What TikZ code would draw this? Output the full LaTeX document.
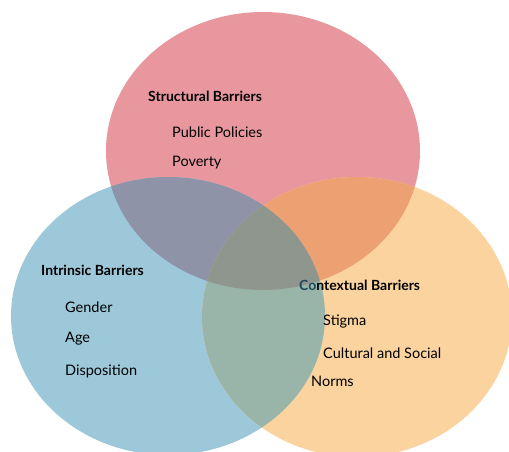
\documentclass[tikz,border=0pt]{standalone}
\usepackage{fontspec}
\setmainfont{Lato}
\newcommand{\vennfont}{\fontsize{14.5}{16}\selectfont}
\newcommand{\venntitlefont}{\fontsize{14}{16}\selectfont\bfseries}
\definecolor{structpink}{HTML}{E8979F}
\definecolor{intrblue}{HTML}{9CC8D9}
\definecolor{contorange}{HTML}{FAD39F}
\definecolor{pinkblue}{HTML}{8E93A7}
\definecolor{pinkorange}{HTML}{EDA072}
\definecolor{blueorange}{HTML}{99B5A9}
\definecolor{allthree}{HTML}{8F968E}
\definecolor{darkteal}{HTML}{1F4A5A}
\def\structpath{(263,151) ellipse [x radius=157, y radius=139]}
\def\intrpath{(168,316) ellipse [x radius=157, y radius=139]}
\def\contpath{(357,317) ellipse [x radius=155, y radius=140]}

\begin{document}
\begin{tikzpicture}[x=1pt, y=-1pt,
    title/.style={anchor=west, inner sep=0pt, font=\venntitlefont},
    item/.style={anchor=west, inner sep=0pt, font=\vennfont}
]
    \useasboundingbox (0,0) rectangle (509,451);

    % Circles
    \fill[structpink] \structpath;
    \fill[intrblue] \intrpath;
    \fill[contorange] \contpath;

    % Overlaps
    \begin{scope}
        \clip \structpath;
        \fill[pinkblue] \intrpath;
        \fill[pinkorange] \contpath;
    \end{scope}
    \begin{scope}
        \clip \intrpath;
        \fill[blueorange] \contpath;
        \clip \contpath;
        \fill[allthree] \structpath;
    \end{scope}

    % Structural
    \node[title] (structural) at (148,96) {Structural Barriers};
    \node[item] (policies) at (172,132) {Public Policies};
    \node[item] (poverty) at (172,163) {Poverty};

    % Intrinsic
    \node[title] (intrinsic) at (41,270) {Intrinsic Barriers};
    \node[item] (gender) at (65,307) {Gender};
    \node[item] (age) at (65,339) {Age};
    \node[item] (disposition) at (65,371) {Disposition};

    % Contextual
    \node[title] (contextual) at (299,285) {\textcolor{darkteal}{Co}ntextual Barriers};
    \node[item] (stigma) at (323,322) {Stigma};
    \node[item] (cultural) at (323,353) {Cultural and Social};
    \node[item] (norms) at (311,381) {Norms};
\end{tikzpicture}
\end{document}
